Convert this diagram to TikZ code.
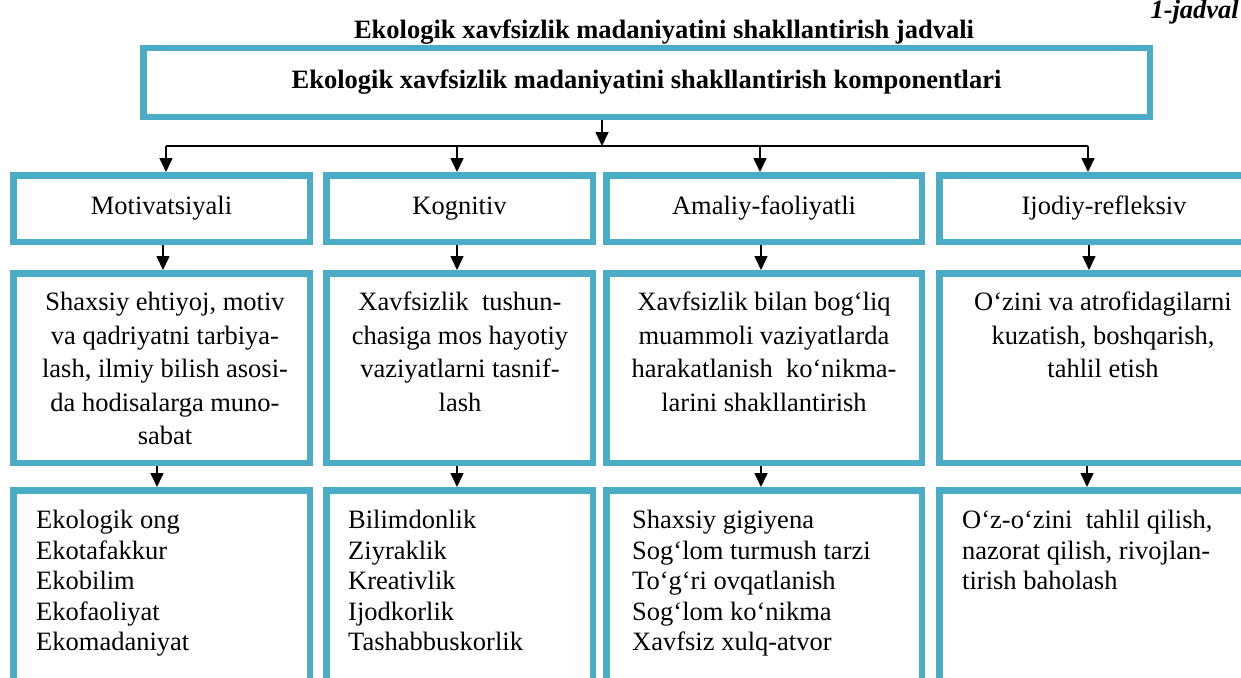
\documentclass[tikz,border=0pt]{standalone}
\usepackage{fontspec}
\setmainfont{Liberation Serif}
\usetikzlibrary{arrows.meta}
\definecolor{frame}{HTML}{4BACC6}
\begin{document}
\begin{tikzpicture}[x=1pt,y=-1pt,
  every node/.style={font=\fontsize{26.5}{33.5}\selectfont},
  box/.style={draw=frame,line width=6.5pt,inner sep=0pt},
  conn/.style={line width=1.6pt,black},
  arr/.style={conn,-{Triangle[width=13pt,length=14pt]}},
  midtext/.style={anchor=north,inner sep=0pt,align=center},
  listtext/.style={anchor=north west,inner sep=0pt,align=left,
    font=\fontsize{26.5}{30.5}\selectfont}]
\useasboundingbox (0,0) rectangle (1241,677);

% headings
\node[anchor=base east,inner sep=0pt,font=\fontsize{26.5}{30}\selectfont\bfseries\itshape]
  (num) at (1239,19) {1-jadval};
\node[anchor=base,inner sep=0pt,font=\fontsize{26.5}{30}\selectfont\bfseries]
  (title) at (664,38) {Ekologik xavfsizlik madaniyatini shakllantirish jadvali};

% main box
\node[box,minimum width=1006.5pt,minimum height=68.5pt,font=\fontsize{26.5}{30}\selectfont\bfseries]
  (top) at (646.5,82.5) {Ekologik xavfsizlik madaniyatini shakllantirish komponentlari};

% component boxes
\node[box,minimum width=296.5pt,minimum height=66.5pt] (a1) at (161.5,208.5) {Motivatsiyali};
\node[box,minimum width=266.5pt,minimum height=66.5pt] (a2) at (459.5,208.5) {Kognitiv};
\node[box,minimum width=315.5pt,minimum height=66.5pt] (a3) at (764,208.5) {Amaliy-faoliyatli};
\node[box,minimum width=329.5pt,minimum height=66.5pt] (a4) at (1104,208.5) {Ijodiy-refleksiv};

% description boxes
\node[box,minimum width=296.5pt,minimum height=189.5pt] (b1) at (161.5,368) {};
\node[box,minimum width=266.5pt,minimum height=189.5pt] (b2) at (459.5,368) {};
\node[box,minimum width=315.5pt,minimum height=189.5pt] (b3) at (764,368) {};
\node[box,minimum width=329.5pt,minimum height=189.5pt] (b4) at (1104,368) {};

\node[midtext] (tb1) at ([shift={(3.5,22)}]b1.north)
  {Shaxsiy ehtiyoj, motiv\\va qadriyatni tarbiya-\\lash, ilmiy bilish asosi-\\da hodisalarga muno-\\sabat};
\node[midtext] (tb2) at ([shift={(0.5,22)}]b2.north)
  {Xavfsizlik\ \ tushun-\\chasiga mos hayotiy\\vaziyatlarni tasnif-\\lash};
\node[midtext] (tb3) at ([shift={(0,22)}]b3.north)
  {Xavfsizlik bilan bog‘liq\\muammoli vaziyatlarda\\harakatlanish\ \ ko‘nikma-\\larini shakllantirish};
\node[midtext] (tb4) at ([shift={(-1,22)}]b4.north)
  {O‘zini va atrofidagilarni\\kuzatish, boshqarish,\\tahlil etish};

% result boxes
\node[box,minimum width=296.5pt,minimum height=226.5pt] (c1) at (161.5,603.5) {};
\node[box,minimum width=266.5pt,minimum height=226.5pt] (c2) at (459.5,603.5) {};
\node[box,minimum width=315.5pt,minimum height=226.5pt] (c3) at (764,603.5) {};
\node[box,minimum width=329.5pt,minimum height=226.5pt] (c4) at (1104,603.5) {};

\node[listtext] (tc1) at ([shift={(26,23)}]c1.north west)
  {Ekologik ong\\Ekotafakkur\\Ekobilim\\Ekofaoliyat\\Ekomadaniyat};
\node[listtext] (tc2) at ([shift={(25,23)}]c2.north west)
  {Bilimdonlik\\Ziyraklik\\Kreativlik\\Ijodkorlik\\Tashabbuskorlik};
\node[listtext] (tc3) at ([shift={(29,23)}]c3.north west)
  {Shaxsiy gigiyena\\Sog‘lom turmush tarzi\\To‘g‘ri ovqatlanish\\Sog‘lom ko‘nikma\\Xavfsiz xulq-atvor};
\node[listtext] (tc4) at ([shift={(26,23)}]c4.north west)
  {O‘z-o‘zini\ \ tahlil qilish,\\nazorat qilish, rivojlan-\\tirish baholash};

% distribution line
\coordinate (busL) at (166,146);
\coordinate (busR) at (1088,146);
\draw[arr] (top.south -| 602,0) -- (602,146);
\draw[conn] (busL) -- (busR);
\draw[arr] (busL) -- (busL |- a1.north);
\draw[arr] (457,146) -- (a2.north -| 457,0);
\draw[arr] (760,146) -- (a3.north -| 760,0);
\draw[arr] (busR) -- (busR |- a4.north);

% links between levels
\draw[arr] (a1.south -| 163,0) -- (b1.north -| 163,0);
\draw[arr] (a2.south -| 457,0) -- (b2.north -| 457,0);
\draw[arr] (a3.south -| 761,0) -- (b3.north -| 761,0);
\draw[arr] (a4.south -| 1089,0) -- (b4.north -| 1089,0);

\draw[arr] (b1.south -| 157,0) -- (c1.north -| 157,0);
\draw[arr] (b2.south -| 457,0) -- (c2.north -| 457,0);
\draw[arr] (b3.south -| 761,0) -- (c3.north -| 761,0);
\draw[arr] (b4.south -| 1087,0) -- (c4.north -| 1087,0);
\end{tikzpicture}
\end{document}
